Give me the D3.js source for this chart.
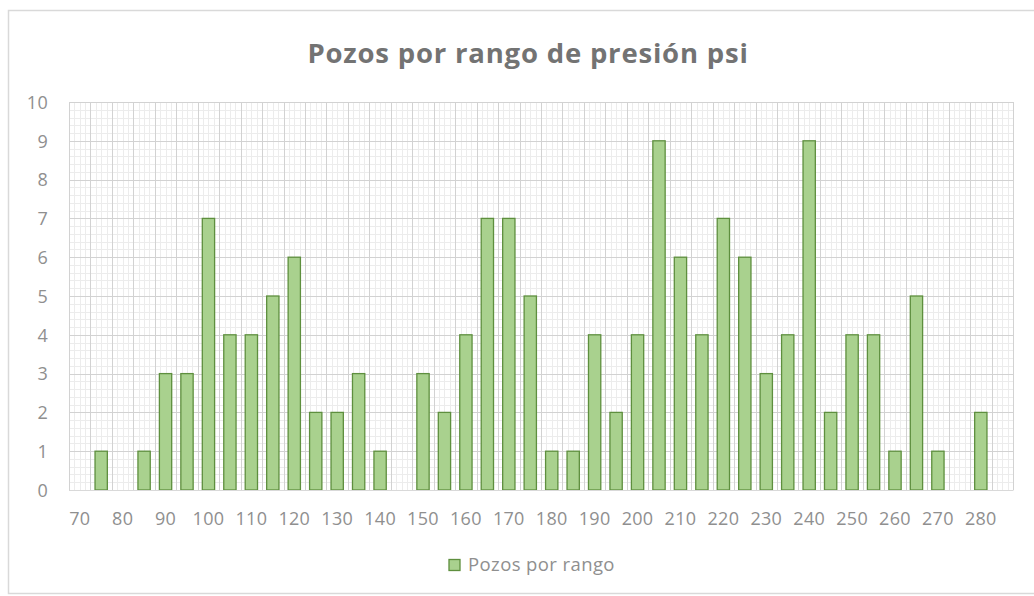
<!DOCTYPE html>
<html>
<head>
<meta charset="utf-8">
<script src="https://cdn.jsdelivr.net/npm/d3@7"></script>
<style>
  html, body { margin: 0; padding: 0; background: #ffffff; }
  svg { display: block; }
</style>
</head>
<body>
<svg id="chart" width="1034" height="596"></svg>
<script>
const title = "Pozos por rango de presión psi";
const seriesName = "Pozos por rango";
const categories = [70, 75, 80, 85, 90, 95, 100, 105, 110, 115, 120, 125, 130, 135, 140, 145,
  150, 155, 160, 165, 170, 175, 180, 185, 190, 195, 200, 205, 210, 215, 220, 225, 230, 235,
  240, 245, 250, 255, 260, 265, 270, 275, 280, 285];
const values = [0, 1, 0, 1, 3, 3, 7, 4, 4, 5, 6, 2, 2, 3, 1, 0,
  3, 2, 4, 7, 7, 5, 1, 1, 4, 2, 4, 9, 6, 4, 7, 6, 3, 4,
  9, 2, 4, 4, 1, 5, 1, 0, 2, 0];
const xTickLabels = [70, 80, 90, 100, 110, 120, 130, 140, 150, 160, 170, 180, 190, 200, 210, 220, 230, 240, 250, 260, 270, 280];
const yTicks = [0, 1, 2, 3, 4, 5, 6, 7, 8, 9, 10];

(function () {
const svg = d3.select("#chart");
const font = "'Open Sans', 'Liberation Sans', sans-serif";
const pL = 69, pR = 1013, pT = 102, pB = 490;

// chart border
svg.append("rect").attr("x", 8.5).attr("y", 10.5).attr("width", 1040).attr("height", 583)
  .attr("fill", "#fff").attr("stroke", "#d9d9d9").attr("stroke-width", 1.5);

const x = d3.scaleBand().domain(categories).range([pL, pR]).paddingInner(0.38).paddingOuter(0.19);
const y = d3.scaleLinear().domain([0, 10]).range([pB, pT]);
const step = x.step();

// minor grid
const g = svg.append("g");
const minorY = d3.range(0, 10.001, 0.2);
g.selectAll("line.minY").data(minorY).join("line")
  .attr("x1", pL).attr("x2", pR)
  .attr("y1", d => Math.round(y(d)) + 0.5).attr("y2", d => Math.round(y(d)) + 0.5)
  .attr("stroke", "#ececec").attr("stroke-width", 1);
const minorX = d3.range(0, categories.length * 4 + 1).map(i => pL + i * step / 4);
g.selectAll("line.minX").data(minorX).join("line")
  .attr("y1", pT).attr("y2", pB)
  .attr("x1", d => Math.round(d) + 0.5).attr("x2", d => Math.round(d) + 0.5)
  .attr("stroke", "#ececec").attr("stroke-width", 1);
// major grid
const majorX = d3.range(0, categories.length + 1).map(i => pL + i * step);
g.selectAll("line.majX").data(majorX).join("line")
  .attr("y1", pT).attr("y2", pB)
  .attr("x1", d => Math.round(d) + 0.5).attr("x2", d => Math.round(d) + 0.5)
  .attr("stroke", "#d2d2d2").attr("stroke-width", 1);
g.selectAll("line.majY").data(yTicks).join("line")
  .attr("x1", pL).attr("x2", pR)
  .attr("y1", d => Math.round(y(d)) + 0.5).attr("y2", d => Math.round(y(d)) + 0.5)
  .attr("stroke", "#d2d2d2").attr("stroke-width", 1);

// bars
svg.append("g").selectAll("rect").data(categories.map((c, i) => ({c, v: values[i]})).filter(d => d.v > 0))
  .join("rect")
  .attr("x", d => x(d.c) + 0.5)
  .attr("y", d => y(d.v))
  .attr("width", x.bandwidth() - 1)
  .attr("height", d => y(0) - y(d.v))
  .attr("fill", "#a9d18e").attr("stroke", "#5e8f3e").attr("stroke-width", 1.3);

// axes
const xAxis = d3.axisBottom(x).tickValues(xTickLabels).tickSize(0).tickPadding(0);
const xa = svg.append("g").attr("transform", `translate(0,${pB})`).call(xAxis);
xa.select(".domain").attr("stroke", "#d9d9d9");
xa.selectAll("text").attr("font-family", font).attr("font-size", 18).attr("letter-spacing", 0.3)
  .attr("fill", "#8f8f8f").attr("dy", 0).attr("y", 35);

const yAxis = d3.axisLeft(y).tickValues(yTicks).tickSize(0).tickPadding(0);
const ya = svg.append("g").attr("transform", `translate(48,0)`).call(yAxis);
ya.select(".domain").remove();
ya.selectAll("text").attr("font-family", font).attr("font-size", 18).attr("letter-spacing", 0.3)
  .attr("fill", "#8f8f8f").attr("dy", "0.35em");

// title
svg.append("text").attr("x", 528).attr("y", 63).attr("text-anchor", "middle")
  .attr("font-family", font).attr("font-weight", 700).attr("font-size", 27.5).attr("letter-spacing", 0.8)
  .attr("fill", "#737373").text(title);

// legend
const lg = svg.append("g").attr("transform", "translate(449,565)");
lg.append("rect").attr("x", 0).attr("y", -5.5).attr("width", 11).attr("height", 11)
  .attr("fill", "#a9d18e").attr("stroke", "#5e8f3e").attr("stroke-width", 1.3);
lg.append("text").attr("x", 19).attr("y", 0).attr("dy", "0.35em")
  .attr("font-family", font).attr("font-size", 18.5).attr("letter-spacing", 0.4)
  .attr("fill", "#8f8f8f").text(seriesName);
})();
</script>
</body>
</html>
